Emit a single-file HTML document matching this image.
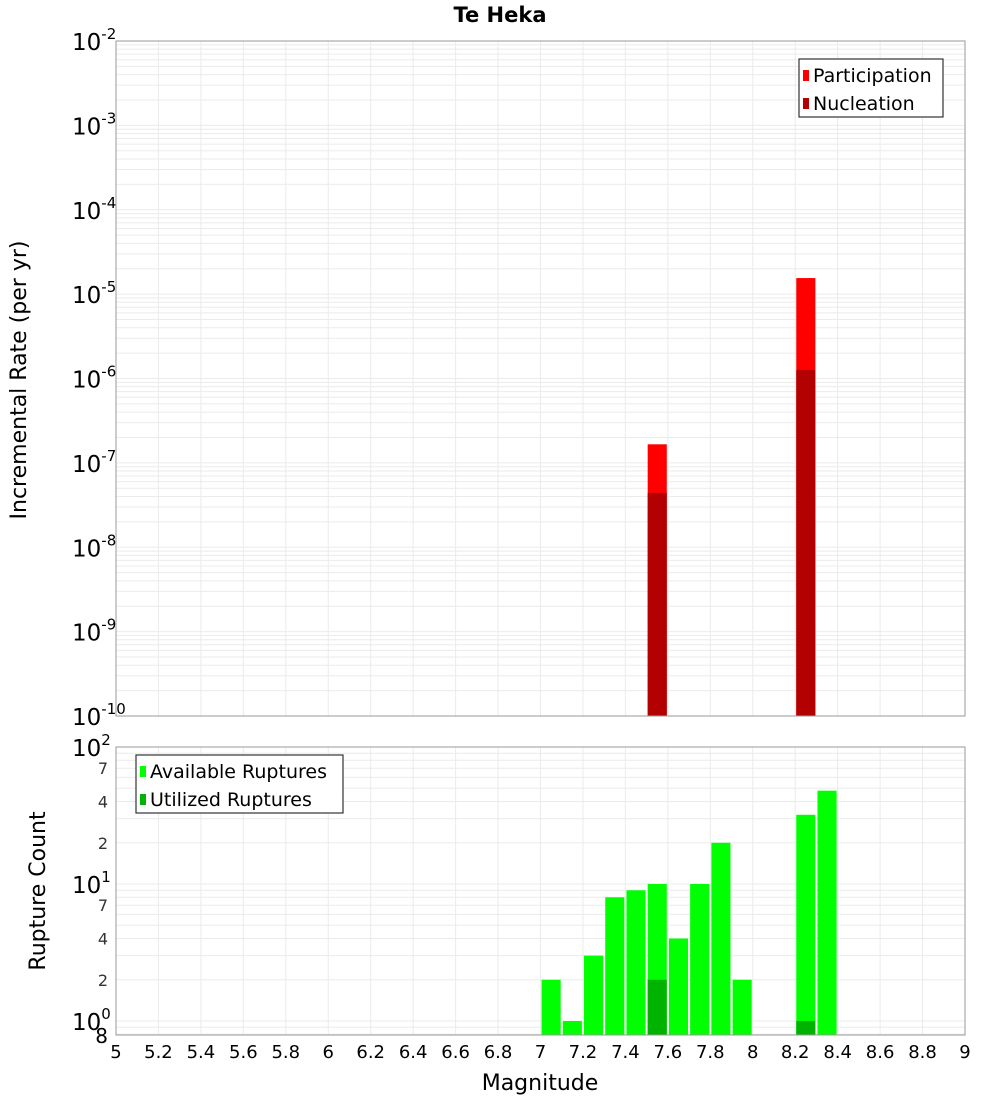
<!DOCTYPE html>
<html><head><meta charset="utf-8"><style>
body{margin:0;background:#fff;}
svg{display:block;font-family:"DejaVu Sans","Liberation Sans",sans-serif;}
</style></head><body>
<svg id="c" width="1000" height="1100" xmlns="http://www.w3.org/2000/svg"></svg>
<script>
const magBins=[7.55,8.25];
const participation=[1.66e-7,1.55e-5];
const nucleation=[4.4e-8,1.26e-6];
const countBins=[7.05,7.15,7.25,7.35,7.45,7.55,7.65,7.75,7.85,7.95,8.25,8.35];
const available=[2,1,3,8,9,10,4,10,20,2,32,48];
const utilBins=[7.55,8.25];
const utilized=[2,1];
const xTicks=[5,5.2,5.4,5.6,5.8,6,6.2,6.4,6.6,6.8,7,7.2,7.4,7.6,7.8,8,8.2,8.4,8.6,8.8,9];
const topExps=[-2,-3,-4,-5,-6,-7,-8,-9,-10];
const botMinor=[2,4,7,20,40,70];

const S=document.getElementById('c');const NS='http://www.w3.org/2000/svg';
function el(t,a,p){const e=document.createElementNS(NS,t);for(const k in a)e.setAttribute(k,a[k]);(p||S).appendChild(e);return e;}
const X0=116,X1=965;
const x=m=>X0+(m-5)/4*(X1-X0);
const T0=41,T1=716;
const yt=v=>T0+(-2-Math.log10(v))/8*(T1-T0);
const B0=747,B1=1035;
const yb=v=>B0+(2-Math.log10(v))*137;
const bw=(x(5.1)-x(5))*0.9;

// title
let t=el('text',{x:500,y:22,'text-anchor':'middle','font-size':21,'font-weight':'bold'});t.textContent='Te Heka';


function grid(y0,y1,yf,dec0,dec1){
  const g=el('g',{});
  for(let m=5;m<=9.001;m+=0.2){el('line',{x1:x(m),x2:x(m),y1:y0,y2:y1,stroke:'#ebebeb','stroke-width':1},g);}
  for(let d=dec0;d<dec1;d++){for(let k=1;k<10;k++){const yy=yf(k*Math.pow(10,d));if(yy>=y0&&yy<=y1)el('line',{x1:X0,x2:X1,y1:yy,y2:yy,stroke:'#ebebeb','stroke-width':1},g);}}
  return g;
}
let g1=grid(T0,T1,yt,-10,-2);
let g2=grid(B0,B1,yb,-1,2);

// top bars
magBins.forEach((m,i)=>{
  let r=el('rect',{x:x(m)-bw/2,y:yt(participation[i]),width:bw,height:T1-yt(participation[i]),fill:'#ff0000'});
  
  let r2=el('rect',{x:x(m)-bw/2,y:yt(nucleation[i]),width:bw,height:T1-yt(nucleation[i]),fill:'#b30000'});
  
});
// bottom bars
countBins.forEach((m,i)=>{
  let r=el('rect',{x:x(m)-bw/2,y:yb(available[i]),width:bw,height:B1-yb(available[i]),fill:'#00ff00'});
  
});
utilBins.forEach((m,i)=>{
  let r=el('rect',{x:x(m)-bw/2,y:yb(utilized[i]),width:bw,height:B1-yb(utilized[i]),fill:'#00b300'});
  
});
// frames
let f1=el('rect',{x:X0,y:T0,width:X1-X0,height:T1-T0,fill:'none',stroke:'#999'});

let f2=el('rect',{x:X0,y:B0,width:X1-X0,height:B1-B0,fill:'none',stroke:'#999'});


// top y ticks
topExps.forEach(e=>{
  const yy=yt(Math.pow(10,e));
  let tx=el('text',{x:110,y:yy+9,'text-anchor':'end','font-size':23});
  
  tx.innerHTML='10<tspan dy="-11" font-size="15">'+e+'</tspan>';
  tx.setAttribute('text-anchor','start');tx.setAttribute('x',72);
});
// bottom y ticks
[2,1,0].forEach(e=>{
  const yy=yb(Math.pow(10,e));
  let tx=el('text',{x:72,y:yy+9,'font-size':23});
  
  tx.innerHTML='10<tspan dy="-11" font-size="15">'+e+'</tspan>';
});
botMinor.forEach(v=>{
  let tx=el('text',{x:108,y:yb(v)+6,'text-anchor':'end','font-size':16,fill:'#333'});
  tx.textContent=String(v).charAt(0);
  
});
let t8=el('text',{x:108,y:B1+8,'text-anchor':'end','font-size':20});t8.textContent='8';


// x ticks
xTicks.forEach(m=>{
  let tx=el('text',{x:x(m),y:1058,'text-anchor':'middle','font-size':18});
  tx.textContent=String(m);
  
});
let xl=el('text',{x:540,y:1090,'text-anchor':'middle','font-size':22});xl.textContent='Magnitude';

let yl=el('text',{x:0,y:0,'text-anchor':'middle','font-size':22,transform:'translate(26,380) rotate(-90)'});yl.textContent='Incremental Rate (per yr)';

let yl2=el('text',{x:0,y:0,'text-anchor':'middle','font-size':22,transform:'translate(45,891) rotate(-90)'});yl2.textContent='Rupture Count';


// legends
function legend(x0,y0,w,items,name){
  const g=el('g',{});
  el('rect',{x:x0,y:y0,width:w,height:58,fill:'#fff',stroke:'#333','stroke-width':1.2},g);
  items.forEach((it,i)=>{
    const yy=y0+15+i*28;
    el('rect',{x:x0+4,y:yy-4,width:6,height:11,fill:it[1]},g);
    let tx=el('text',{x:x0+14,y:yy+8,'font-size':19},g);tx.textContent=it[0];
    
  });
}
legend(799,59,144,[['Participation','#ff0000'],['Nucleation','#b30000']],'top-legend');
legend(136,755,207,[['Available Ruptures','#00ff00'],['Utilized Ruptures','#00b300']],'bottom-legend');
</script>
</body></html>
